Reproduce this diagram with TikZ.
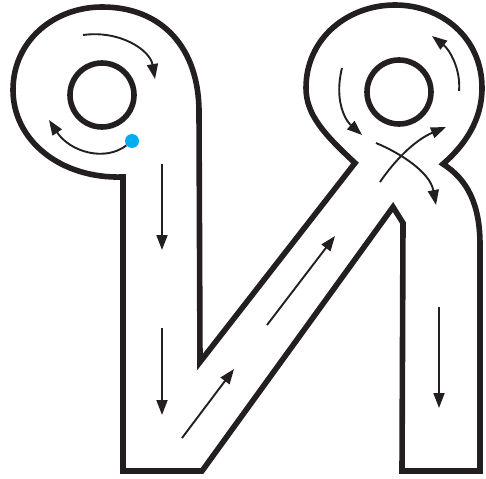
\documentclass[tikz,border=0pt]{standalone}
\usetikzlibrary{arrows.meta}
\definecolor{ink}{HTML}{231F20}
\definecolor{dotblue}{HTML}{00AEEF}
\begin{document}
\begin{tikzpicture}[x=1pt,y=-1pt,
  outline/.style={draw=ink,line width=5.6pt,line join=miter},
  guide/.style={draw=ink,line width=1.9pt,-{Triangle[length=15pt,width=11pt]}}]
\useasboundingbox (0,0) rectangle (486,478);
% outer outline
\path[outline] (123,471) -- (123,177)
  .. controls (60,179) and (13,140) .. (13,90)
  .. controls (13,40) and (55,7) .. (102,7)
  .. controls (162,7) and (199,48) .. (199,112)
  -- (200,362) -- (355,163)
  .. controls (325,135) and (306,115) .. (306,88)
  .. controls (306,38) and (348,5) .. (395,5)
  .. controls (442,5) and (482,38) .. (482,88)
  .. controls (482,120) and (465,145) .. (443,164)
  .. controls (468,180) and (480,205) .. (480,245)
  -- (480,471) -- (402,471) -- (403,223) -- (393,207) -- (202,471) -- cycle;
% inner circles
\draw[outline] (102,95) circle[radius=32];
\draw[outline] (399,92) circle[radius=32];
% blue start dot
\node[circle,fill=dotblue,inner sep=0pt,minimum size=14pt] (start) at (132,141) {};
% guide arrows
\draw[guide] (83,35) .. controls (120,30) and (150,50) .. (155,79);
\draw[guide] (start) .. controls (105,162) and (70,152) .. (49,120);
\draw[guide] (162,164) -- (162,250);
\draw[guide] (162,328) -- (162,415);
\draw[guide] (182,438) -- (234,369);
\draw[guide] (267,325) -- (335,236);
\draw[guide] (439,307) -- (439,408);
\draw[guide] (342,68) .. controls (334,100) and (345,120) .. (362,135);
\draw[guide] (459,91) .. controls (461,70) and (450,50) .. (432,36);
\draw[guide] (376,143) .. controls (400,153) and (430,172) .. (436,205);
\draw[guide] (380,182) .. controls (395,160) and (415,140) .. (446,127);
\end{tikzpicture}
\end{document}
